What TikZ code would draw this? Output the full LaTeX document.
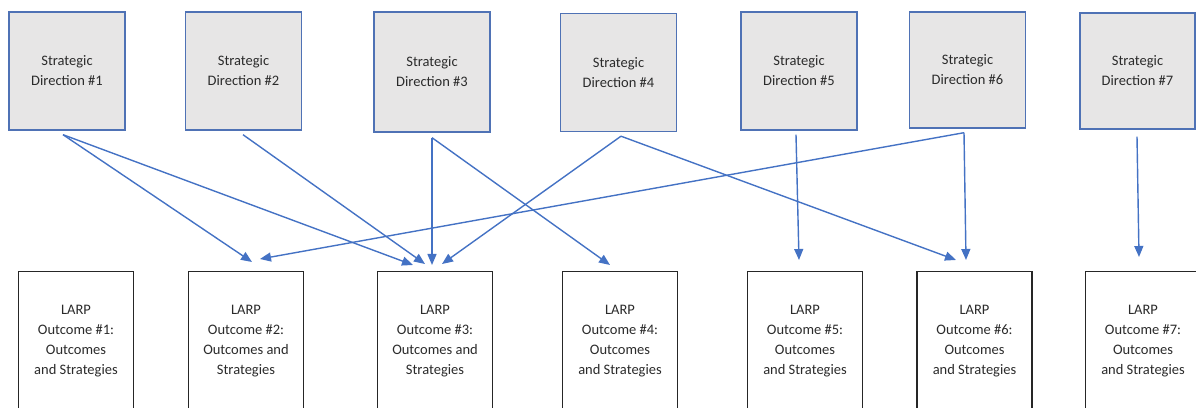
\documentclass[tikz,border=0pt]{standalone}
\usepackage{fontspec}
\setmainfont{Carlito}
\usetikzlibrary{arrows.meta}
\definecolor{linkblue}{HTML}{4472C4}
\definecolor{sdborder}{HTML}{4F72B5}
\definecolor{sdfill}{HTML}{E7E6E6}
\definecolor{txt}{HTML}{2B2B2B}
\tikzset{
  dirbox/.style={draw=sdborder, fill=sdfill, line width=1.4pt, minimum width=116pt,
    minimum height=118pt, inner sep=0pt, align=center, text=txt,
    font=\fontsize{14.5}{20}\selectfont},
  outbox/.style={draw=black!85, fill=white, line width=1.4pt, minimum width=115pt,
    minimum height=138pt, inner sep=0pt, anchor=north, align=center, text=txt,
    font=\fontsize{14.5}{20}\selectfont},
  link/.style={draw=linkblue, line width=1.4pt, -{Triangle[length=11pt,width=9pt]}}
}
\begin{document}
\begin{tikzpicture}[x=1pt,y=1pt]
\useasboundingbox (0,0) rectangle (1196,407);

% strategic directions (top row)
\node[dirbox] (sd1) at (67,336)    {Strategic\\Direction \#1};
\node[dirbox] (sd2) at (243.5,336) {Strategic\\Direction \#2};
\node[dirbox, minimum height=120pt] (sd3) at (432,335)   {Strategic\\Direction \#3};
\node[dirbox] (sd4) at (618.5,334.5) {Strategic\\Direction \#4};
\node[dirbox] (sd5) at (799,336)   {Strategic\\Direction \#5};
\node[dirbox, minimum height=116pt] (sd6) at (967.5,337) {Strategic\\Direction \#6};
\node[dirbox, minimum height=116pt, minimum width=115pt] (sd7) at (1137.5,336) {Strategic\\Direction \#7};

% LARP outcomes (bottom row)
\node[outbox] (lo1) at (76,136)    {LARP\\Outcome \#1:\\Outcomes\\and Strategies};
\node[outbox] (lo2) at (246,136)   {LARP\\Outcome \#2:\\Outcomes and\\Strategies};
\node[outbox] (lo3) at (435,136)   {LARP\\Outcome \#3:\\Outcomes and\\Strategies};
\node[outbox] (lo4) at (620,136)   {LARP\\Outcome \#4:\\Outcomes\\and Strategies};
\node[outbox] (lo5) at (805,136)   {LARP\\Outcome \#5:\\Outcomes\\and Strategies};
\node[outbox] (lo6) at (974.5,136) {LARP\\Outcome \#6:\\Outcomes\\and Strategies};
\node[outbox] (lo7) at (1143,136)  {LARP\\Outcome \#7:\\Outcomes\\and Strategies};

% links from directions to outcomes
\draw[link] ([xshift=-4pt,yshift=-4pt]sd1.south) -- ([xshift=6pt,yshift=9pt]lo2.north);
\draw[link] ([xshift=-4pt,yshift=-4pt]sd1.south) -- ([xshift=-22pt,yshift=6pt]lo3.north);
\draw[link] ([xshift=-0.5pt,yshift=-4pt]sd2.south) -- ([xshift=-10pt,yshift=7pt]lo3.north);
\draw[link] ([yshift=-5pt]sd3.south) -- ([xshift=-3pt,yshift=6pt]lo3.north);
\draw[link] ([yshift=-5pt]sd3.south) -- ([xshift=-10pt,yshift=6pt]lo4.north);
\draw[link] ([xshift=2.5pt,yshift=-4pt]sd4.south) -- ([xshift=7pt,yshift=7pt]lo3.north);
\draw[link] ([xshift=2.5pt,yshift=-4pt]sd4.south) -- ([xshift=-18.5pt,yshift=11pt]lo6.north);
\draw[link] ([xshift=-3pt,yshift=-4pt]sd5.south) -- ([xshift=-6pt,yshift=11pt]lo5.north);
\draw[link] ([xshift=-3.5pt,yshift=-4pt]sd6.south) -- ([xshift=-8.5pt,yshift=11pt]lo6.north);
\draw[link] ([xshift=-3.5pt,yshift=-4pt]sd6.south) -- ([xshift=14pt,yshift=12pt]lo2.north);
\draw[link] ([xshift=-0.5pt,yshift=-7pt]sd7.south) -- ([xshift=-4pt,yshift=14pt]lo7.north);
\end{tikzpicture}
\end{document}
